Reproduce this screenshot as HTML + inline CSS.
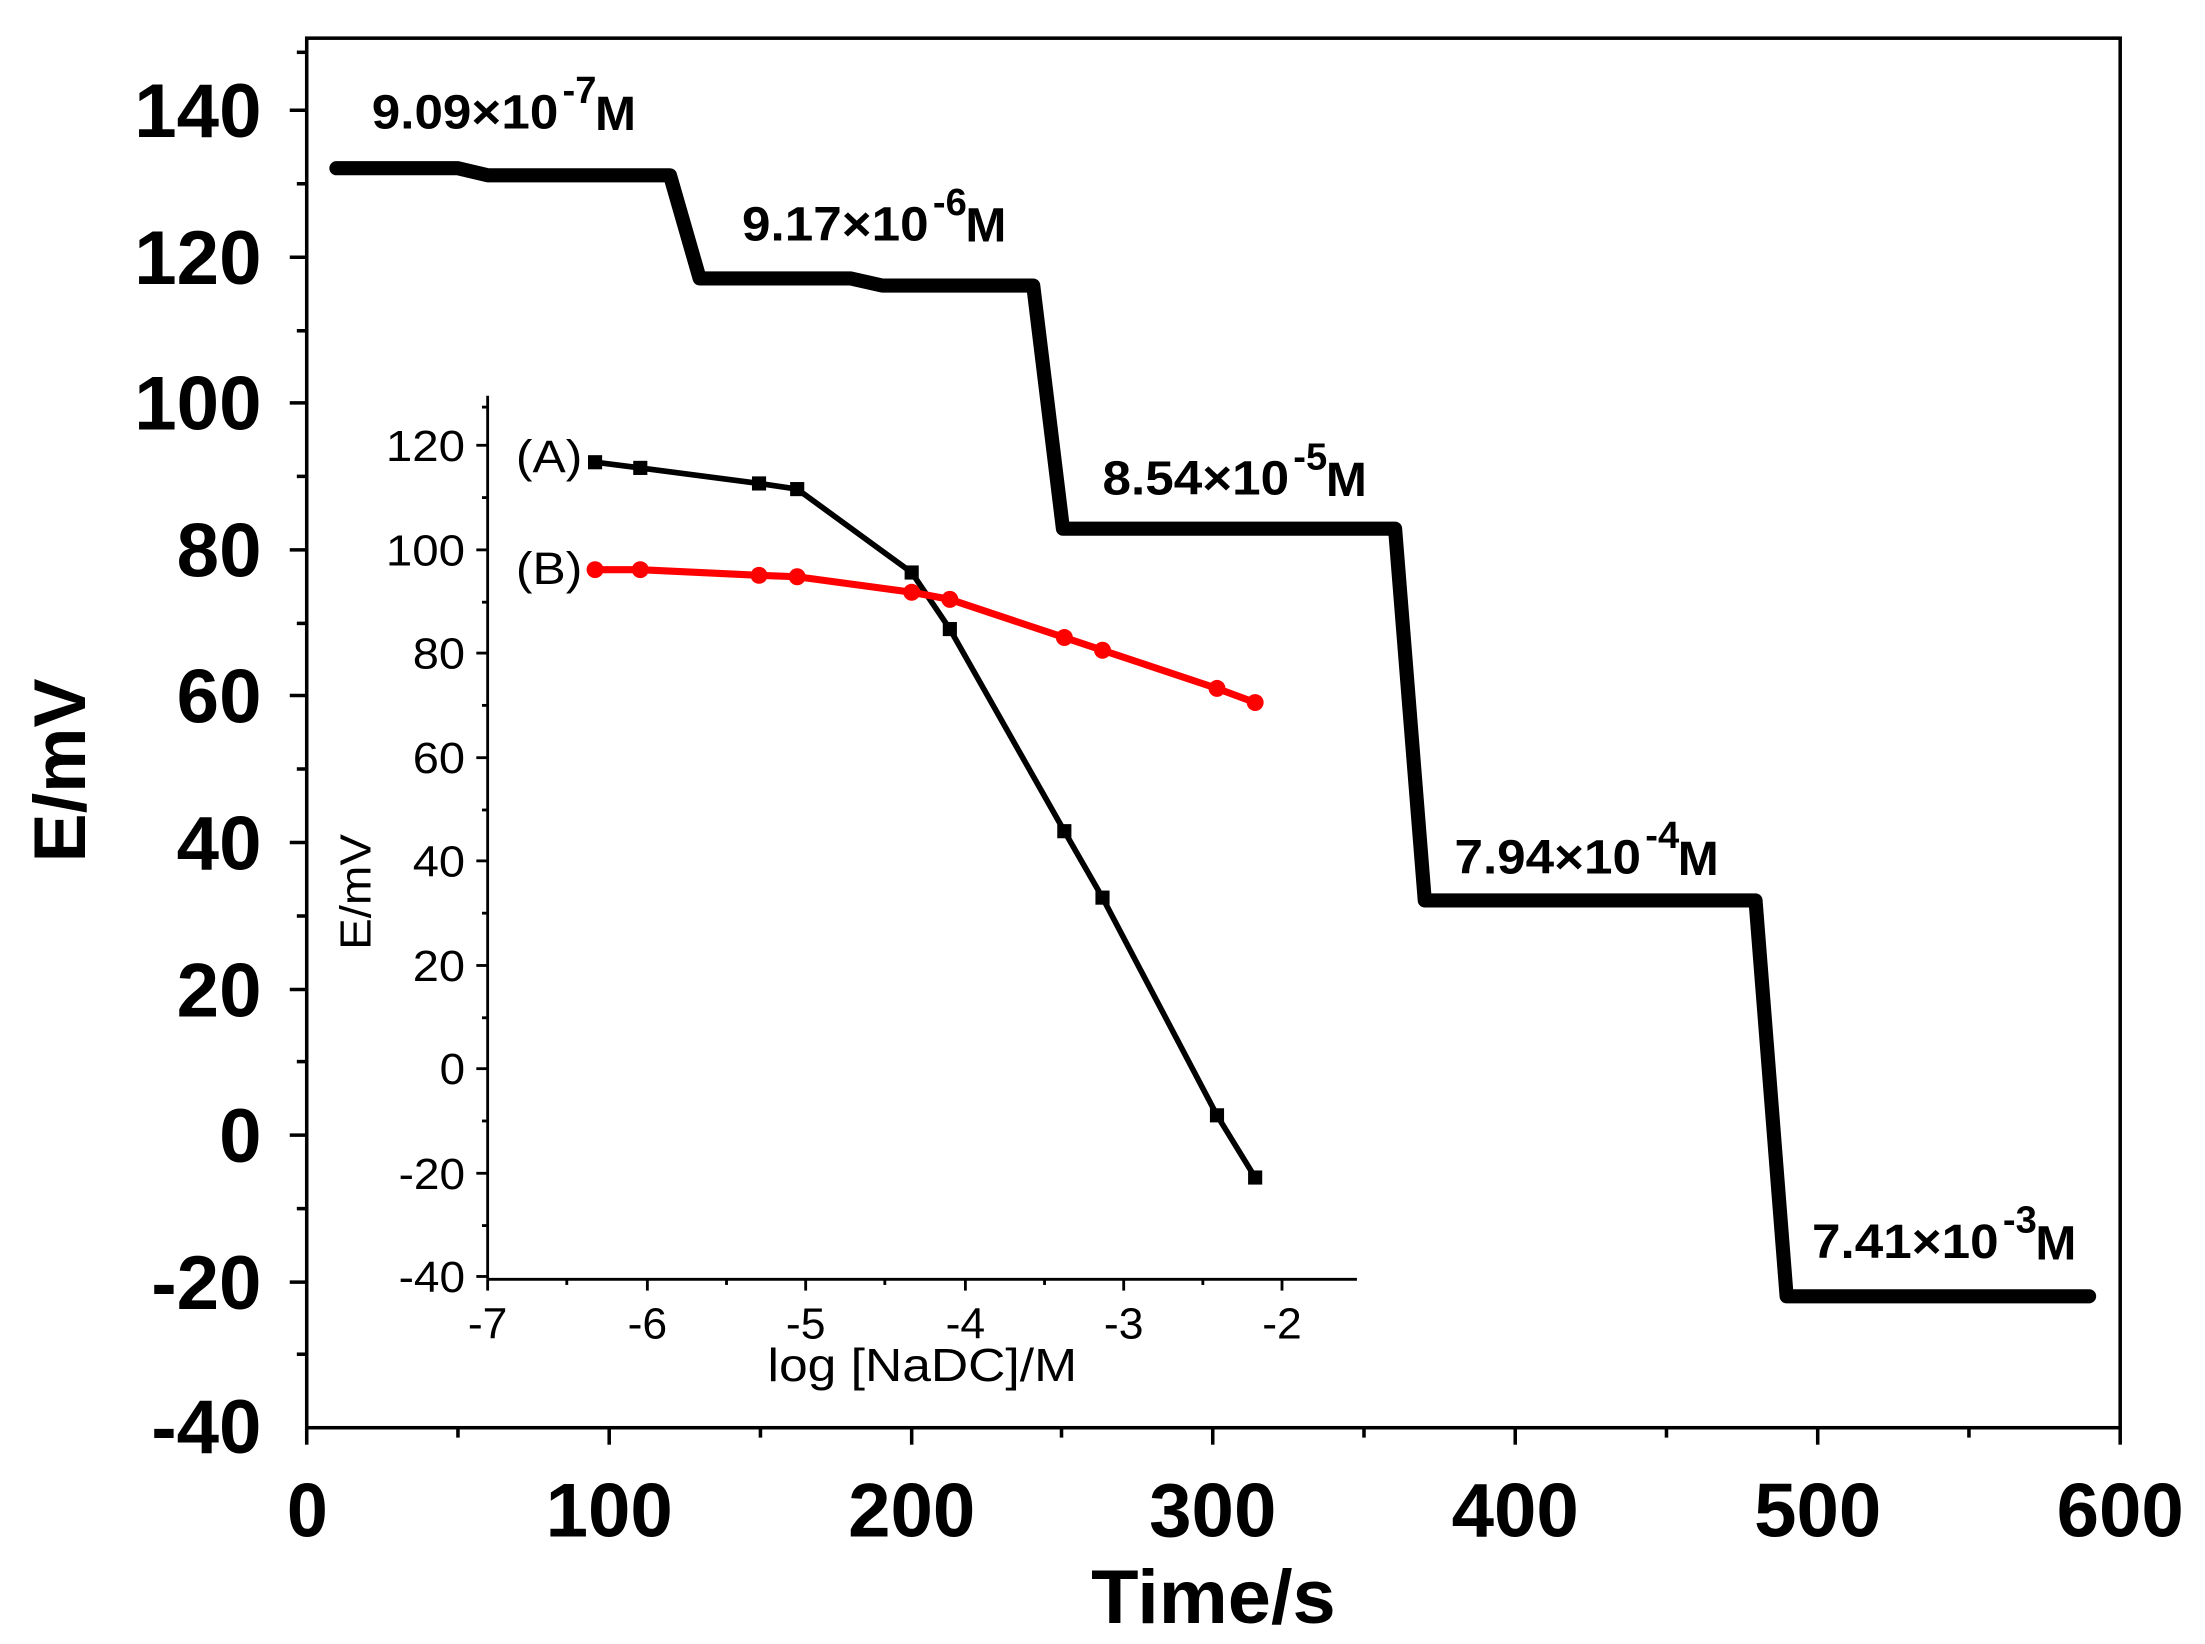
<!DOCTYPE html>
<html><head><meta charset="utf-8"><style>html,body{margin:0;padding:0;background:#fff}svg{display:block}text{font-family:"Liberation Sans",Arial,sans-serif}.b{font-weight:bold}.n{font-weight:normal}</style></head><body>
<svg width="2205" height="1644" viewBox="0 0 1560 1163" preserveAspectRatio="none" xmlns="http://www.w3.org/2000/svg">
<rect x="0" y="0" width="1560" height="1163" fill="#fff"/>
<rect x="217" y="27" width="1283" height="983" fill="none" stroke="#000" stroke-width="2.5"/>
<g stroke="#000" stroke-width="2.5">
<line x1="205" y1="78" x2="217" y2="78"/><line x1="205" y1="182" x2="217" y2="182"/><line x1="205" y1="285" x2="217" y2="285"/><line x1="205" y1="389" x2="217" y2="389"/><line x1="205" y1="492" x2="217" y2="492"/><line x1="205" y1="596" x2="217" y2="596"/><line x1="205" y1="700" x2="217" y2="700"/><line x1="205" y1="803" x2="217" y2="803"/><line x1="205" y1="907" x2="217" y2="907"/>
<line x1="210" y1="130" x2="217" y2="130"/><line x1="210" y1="234" x2="217" y2="234"/><line x1="210" y1="337" x2="217" y2="337"/><line x1="210" y1="441" x2="217" y2="441"/><line x1="210" y1="544" x2="217" y2="544"/><line x1="210" y1="648" x2="217" y2="648"/><line x1="210" y1="751" x2="217" y2="751"/><line x1="210" y1="855" x2="217" y2="855"/><line x1="210" y1="958" x2="217" y2="958"/><line x1="210" y1="37" x2="217" y2="37"/>
<line x1="217" y1="1010" x2="217" y2="1022"/><line x1="431" y1="1010" x2="431" y2="1022"/><line x1="645" y1="1010" x2="645" y2="1022"/><line x1="858" y1="1010" x2="858" y2="1022"/><line x1="1072" y1="1010" x2="1072" y2="1022"/><line x1="1286" y1="1010" x2="1286" y2="1022"/><line x1="1500" y1="1010" x2="1500" y2="1022"/>
<line x1="324" y1="1010" x2="324" y2="1017"/><line x1="538" y1="1010" x2="538" y2="1017"/><line x1="751" y1="1010" x2="751" y2="1017"/><line x1="965" y1="1010" x2="965" y2="1017"/><line x1="1179" y1="1010" x2="1179" y2="1017"/><line x1="1393" y1="1010" x2="1393" y2="1017"/>
</g>
<g font-size="54" class="b" lengthAdjust="spacingAndGlyphs">
<text x="95" y="97" textLength="90" lengthAdjust="spacingAndGlyphs">140</text><text x="95" y="201" textLength="90" lengthAdjust="spacingAndGlyphs">120</text><text x="95" y="304" textLength="90" lengthAdjust="spacingAndGlyphs">100</text><text x="125" y="408" textLength="60" lengthAdjust="spacingAndGlyphs">80</text><text x="125" y="511" textLength="60" lengthAdjust="spacingAndGlyphs">60</text><text x="125" y="615" textLength="60" lengthAdjust="spacingAndGlyphs">40</text><text x="125" y="719" textLength="60" lengthAdjust="spacingAndGlyphs">20</text><text x="155" y="822" textLength="30" lengthAdjust="spacingAndGlyphs">0</text><text x="107" y="926" textLength="78" lengthAdjust="spacingAndGlyphs">-20</text><text x="107" y="1028" textLength="78" lengthAdjust="spacingAndGlyphs">-40</text>
</g>
<g font-size="54" class="b">
<text x="203" y="1087" textLength="29" lengthAdjust="spacingAndGlyphs">0</text><text x="386" y="1087" textLength="90" lengthAdjust="spacingAndGlyphs">100</text><text x="600" y="1087" textLength="90" lengthAdjust="spacingAndGlyphs">200</text><text x="813" y="1087" textLength="90" lengthAdjust="spacingAndGlyphs">300</text><text x="1027" y="1087" textLength="90" lengthAdjust="spacingAndGlyphs">400</text><text x="1241" y="1087" textLength="90" lengthAdjust="spacingAndGlyphs">500</text><text x="1455" y="1087" textLength="90" lengthAdjust="spacingAndGlyphs">600</text>
</g>
<text x="772" y="1148" font-size="54" class="b" textLength="173" lengthAdjust="spacingAndGlyphs">Time/s</text>
<text transform="translate(60,545) rotate(-90)" font-size="52" class="b" text-anchor="middle">E/mV</text>
<polyline fill="none" stroke="#000" stroke-width="10" stroke-linejoin="round" stroke-linecap="round" points="238,119 324,119 345,124 474,124 495,197 602,197 624,202 731,202 752,374 987,374 1008,637 1242,637 1264,917 1478,917"/>
<g font-size="34" class="b">
<text x="263" y="91" textLength="132" lengthAdjust="spacingAndGlyphs">9.09×10</text><text x="398" y="73" font-size="27">-7</text><text x="421" y="92" textLength="29" lengthAdjust="spacingAndGlyphs">M</text>
<text x="525" y="170" textLength="132" lengthAdjust="spacingAndGlyphs">9.17×10</text><text x="660" y="152" font-size="27">-6</text><text x="683" y="171" textLength="29" lengthAdjust="spacingAndGlyphs">M</text>
<text x="780" y="350" textLength="132" lengthAdjust="spacingAndGlyphs">8.54×10</text><text x="915" y="332" font-size="27">-5</text><text x="938" y="351" textLength="29" lengthAdjust="spacingAndGlyphs">M</text>
<text x="1029" y="618" textLength="132" lengthAdjust="spacingAndGlyphs">7.94×10</text><text x="1164" y="600" font-size="27">-4</text><text x="1187" y="619" textLength="29" lengthAdjust="spacingAndGlyphs">M</text>
<text x="1282" y="890" textLength="132" lengthAdjust="spacingAndGlyphs">7.41×10</text><text x="1417" y="872" font-size="27">-3</text><text x="1440" y="891" textLength="29" lengthAdjust="spacingAndGlyphs">M</text>
</g>
<!-- inset -->
<g stroke="#000" stroke-width="2">
<line x1="345" y1="280" x2="345" y2="905"/><line x1="345" y1="905" x2="960" y2="905"/>
<line x1="337" y1="315" x2="345" y2="315"/><line x1="337" y1="389" x2="345" y2="389"/><line x1="337" y1="462" x2="345" y2="462"/><line x1="337" y1="536" x2="345" y2="536"/><line x1="337" y1="609" x2="345" y2="609"/><line x1="337" y1="683" x2="345" y2="683"/><line x1="337" y1="756" x2="345" y2="756"/><line x1="337" y1="830" x2="345" y2="830"/><line x1="337" y1="903" x2="345" y2="903"/>
<line x1="341" y1="352" x2="345" y2="352"/><line x1="341" y1="426" x2="345" y2="426"/><line x1="341" y1="499" x2="345" y2="499"/><line x1="341" y1="573" x2="345" y2="573"/><line x1="341" y1="646" x2="345" y2="646"/><line x1="341" y1="720" x2="345" y2="720"/><line x1="341" y1="793" x2="345" y2="793"/><line x1="341" y1="867" x2="345" y2="867"/><line x1="341" y1="288" x2="345" y2="288"/>
<line x1="345" y1="905" x2="345" y2="913"/><line x1="458" y1="905" x2="458" y2="913"/><line x1="570" y1="905" x2="570" y2="913"/><line x1="683" y1="905" x2="683" y2="913"/><line x1="795" y1="905" x2="795" y2="913"/><line x1="907" y1="905" x2="907" y2="913"/>
<line x1="401" y1="905" x2="401" y2="909"/><line x1="514" y1="905" x2="514" y2="909"/><line x1="626" y1="905" x2="626" y2="909"/><line x1="739" y1="905" x2="739" y2="909"/><line x1="851" y1="905" x2="851" y2="909"/>
</g>
<g font-size="31" class="n">
<text x="273" y="326" textLength="56" lengthAdjust="spacingAndGlyphs">120</text><text x="273" y="400" textLength="56" lengthAdjust="spacingAndGlyphs">100</text><text x="292" y="473" textLength="37" lengthAdjust="spacingAndGlyphs">80</text><text x="292" y="547" textLength="37" lengthAdjust="spacingAndGlyphs">60</text><text x="292" y="620" textLength="37" lengthAdjust="spacingAndGlyphs">40</text><text x="292" y="694" textLength="37" lengthAdjust="spacingAndGlyphs">20</text><text x="311" y="767" textLength="18" lengthAdjust="spacingAndGlyphs">0</text><text x="282" y="841" textLength="47" lengthAdjust="spacingAndGlyphs">-20</text><text x="282" y="914" textLength="47" lengthAdjust="spacingAndGlyphs">-40</text>
</g>
<g font-size="31" class="n">
<text x="331" y="947" textLength="28" lengthAdjust="spacingAndGlyphs">-7</text><text x="444" y="947" textLength="28" lengthAdjust="spacingAndGlyphs">-6</text><text x="556" y="947" textLength="28" lengthAdjust="spacingAndGlyphs">-5</text><text x="669" y="947" textLength="28" lengthAdjust="spacingAndGlyphs">-4</text><text x="781" y="947" textLength="28" lengthAdjust="spacingAndGlyphs">-3</text><text x="893" y="947" textLength="28" lengthAdjust="spacingAndGlyphs">-2</text>
</g>
<text x="543" y="977" font-size="33" class="n" textLength="219" lengthAdjust="spacingAndGlyphs">log [NaDC]/M</text>
<text transform="translate(262,672) rotate(-90)" font-size="31" class="n" textLength="82" lengthAdjust="spacingAndGlyphs">E/mV</text>
<text x="365" y="334" font-size="32" class="n" textLength="47" lengthAdjust="spacingAndGlyphs">(A)</text>
<text x="365" y="413" font-size="32" class="n" textLength="47" lengthAdjust="spacingAndGlyphs">(B)</text>
<polyline fill="none" stroke="#000" stroke-width="4" points="421,327 453,331 537,342 564,346 645,405 672,445 753,588 780,635 861,789 888,833"/>
<g fill="#000">
<rect x="416" y="322" width="10" height="10"/><rect x="448" y="326" width="10" height="10"/><rect x="532" y="337" width="10" height="10"/><rect x="559" y="341" width="10" height="10"/><rect x="640" y="400" width="10" height="10"/><rect x="667" y="440" width="10" height="10"/><rect x="748" y="583" width="10" height="10"/><rect x="775" y="630" width="10" height="10"/><rect x="856" y="784" width="10" height="10"/><rect x="883" y="828" width="10" height="10"/>
</g>
<polyline fill="none" stroke="#f00" stroke-width="5" points="421,403 453,403 537,407 564,408 645,419 672,424 753,451 780,460 861,487 888,497"/>
<g fill="#f00">
<circle cx="421" cy="403" r="6"/><circle cx="453" cy="403" r="6"/><circle cx="537" cy="407" r="6"/><circle cx="564" cy="408" r="6"/><circle cx="645" cy="419" r="6"/><circle cx="672" cy="424" r="6"/><circle cx="753" cy="451" r="6"/><circle cx="780" cy="460" r="6"/><circle cx="861" cy="487" r="6"/><circle cx="888" cy="497" r="6"/>
</g>
</svg>
</body></html>
